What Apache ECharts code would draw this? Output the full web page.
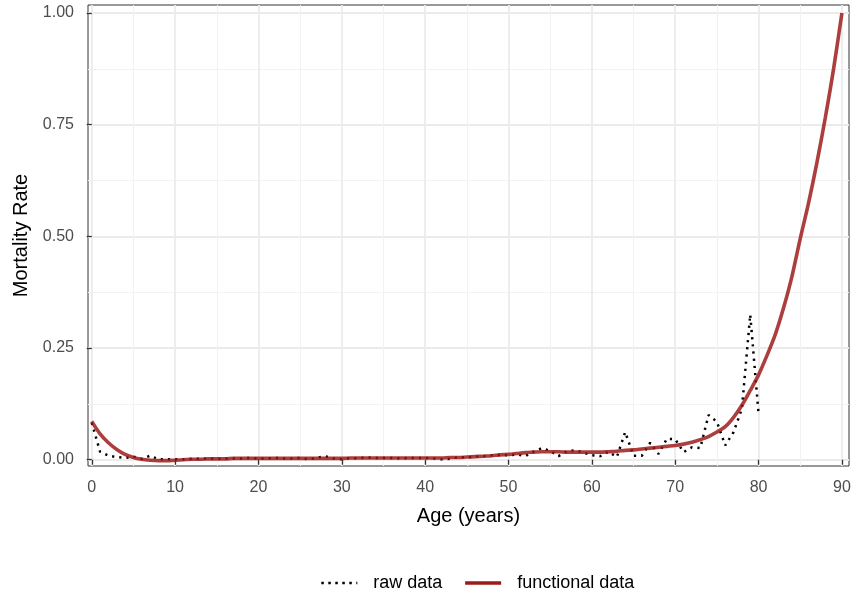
<!DOCTYPE html>
<html>
<head>
<meta charset="utf-8">
<script src="https://cdn.jsdelivr.net/npm/echarts@6/dist/echarts.min.js"></script>
<style>
html,body{margin:0;padding:0;background:#fff;}
#chart{width:855px;height:596px;}
</style>
</head>
<body>
<div id="chart"></div>
<script>
// ages
const rawAges = [];
for (let a = 0; a <= 80; a++) rawAges.push(a);
const funcAges = [];
for (let a = 0; a <= 90; a++) funcAges.push(a);

// raw mortality rates, ages 0..80
const rawRates = [
  0.083, 0.018, 0.009, 0.006, 0.004, 0.007, 0.002, 0.009, 0.001, 0.001,
  0.001, 0.001, 0.002, 0.002, 0.002, 0.002, 0.003, 0.003, 0.003, 0.004,
  0.003, 0.003, 0.004, 0.003, 0.003, 0.004, 0.001, 0.004, 0.008, 0.003,
  0.001, 0.004, 0.003, 0.005, 0.004, 0.004, 0.004, 0.003, 0.004, 0.004,
  0.004, 0.003, 0.001, 0.002, 0.006, 0.005, 0.007, 0.008, 0.010, 0.011,
  0.010, 0.012, 0.008, 0.018, 0.026, 0.020, 0.008, 0.019, 0.021, 0.016,
  0.010, 0.008, 0.018, 0.006, 0.062, 0.009, 0.009, 0.038, 0.013, 0.047,
  0.046, 0.017, 0.028, 0.026, 0.100, 0.085, 0.032, 0.062, 0.114, 0.325,
  0.103
];

// functional (smoothed) mortality rates, ages 0..90
const funcRates = [
  0.086, 0.058, 0.038, 0.023, 0.012, 0.005, 0.001, -0.001, -0.002, -0.002,
  -0.001, 0.000, 0.001, 0.001, 0.002, 0.002, 0.002, 0.003, 0.003, 0.003,
  0.003, 0.003, 0.003, 0.003, 0.003, 0.003, 0.003, 0.003, 0.003, 0.003,
  0.003, 0.004, 0.004, 0.004, 0.004, 0.004, 0.004, 0.004, 0.004, 0.004,
  0.004, 0.004, 0.004, 0.005, 0.005, 0.006, 0.007, 0.008, 0.009, 0.011,
  0.012, 0.014, 0.016, 0.017, 0.018, 0.018, 0.018, 0.017, 0.017, 0.017,
  0.017, 0.017, 0.018, 0.019, 0.021, 0.022, 0.024, 0.026, 0.028, 0.030,
  0.032, 0.035, 0.039, 0.045, 0.052, 0.062, 0.074, 0.095, 0.122, 0.155,
  0.190, 0.233, 0.280, 0.340, 0.410, 0.495, 0.575, 0.665, 0.765, 0.875,
  1.000
];

const xMajorTicks = [0, 10, 20, 30, 40, 50, 60, 70, 80, 90];
const xMinorTicks = [5, 15, 25, 35, 45, 55, 65, 75, 85];
const yMajorTicks = [0, 0.25, 0.5, 0.75, 1.0];
const yMinorTicks = [0.125, 0.375, 0.625, 0.875];

const seriesNames = ['raw data', 'functional data'];

const X_MIN = -0.45, X_MAX = 90.85;
const Y_MIN = -0.014, Y_MAX = 1.018;

const chart = echarts.init(document.getElementById('chart'), null, {renderer: 'canvas'});
const font = 'Liberation Sans, Arial, sans-serif';

const option = {
  backgroundColor: '#ffffff',
  animation: false,
  grid: {
    left: 88, right: 6, top: 5, bottom: 130,
    show: true, borderColor: '#333333', borderWidth: 1, backgroundColor: 'transparent'
  },
  legend: {
    top: 569,
    left: 315,
    itemWidth: 36,
    itemHeight: 14,
    itemGap: 21,
    textStyle: {fontFamily: font, fontSize: 18, color: '#000', padding: [0, 0, 0, 11]},
    data: [
      {name: seriesNames[0], itemStyle: {opacity: 0}, lineStyle: {color: '#000', width: 2.6, type: [2.5, 4.5]}},
      {name: seriesNames[1], itemStyle: {opacity: 0}, lineStyle: {color: '#9B1B1B', width: 3.6}}
    ]
  },
  xAxis: [
    {
      type: 'value', min: X_MIN, max: X_MAX,
      name: 'Age (years)', nameLocation: 'middle', nameGap: 40,
      nameTextStyle: {fontFamily: font, fontSize: 20, color: '#000'},
      axisLine: {show: false},
      axisTick: {show: true, length: 5, customValues: xMajorTicks, lineStyle: {color: '#333', width: 1.3}},
      axisLabel: {customValues: xMajorTicks, fontFamily: font, fontSize: 16, color: '#4D4D4D', margin: 14,
        formatter: v => String(Math.round(v))},
      splitLine: {show: true, lineStyle: {color: '#EBEBEB', width: 1.8}}
    },
    {
      type: 'value', min: X_MIN, max: X_MAX, position: 'bottom',
      axisLine: {show: false}, axisLabel: {show: false},
      axisTick: {show: false, customValues: xMinorTicks},
      splitLine: {show: true, lineStyle: {color: '#F2F2F2', width: 1}}
    }
  ],
  yAxis: [
    {
      type: 'value', min: Y_MIN, max: Y_MAX,
      name: 'Mortality Rate', nameLocation: 'middle', nameGap: 57,
      nameTextStyle: {fontFamily: font, fontSize: 20, color: '#000'},
      axisLine: {show: false},
      axisTick: {show: true, length: 5, customValues: yMajorTicks, lineStyle: {color: '#333', width: 1.3}},
      axisLabel: {customValues: yMajorTicks, fontFamily: font, fontSize: 16, color: '#4D4D4D', margin: 14,
        formatter: v => v.toFixed(2)},
      splitLine: {show: true, lineStyle: {color: '#EBEBEB', width: 1.8}}
    },
    {
      type: 'value', min: Y_MIN, max: Y_MAX, position: 'left',
      axisLine: {show: false}, axisLabel: {show: false},
      axisTick: {show: false, customValues: yMinorTicks},
      splitLine: {show: true, lineStyle: {color: '#F2F2F2', width: 1}}
    }
  ],
  series: [
    {
      name: seriesNames[0], type: 'line',
      data: rawAges.map((a, i) => [a, rawRates[i]]),
      showSymbol: false, symbol: 'none',
      lineStyle: {color: '#000', width: 2.5, type: [2.2, 5]},
      itemStyle: {color: '#000'},
      clip: false, z: 3
    },
    {
      name: seriesNames[1], type: 'line',
      data: funcAges.map((a, i) => [a, funcRates[i]]),
      showSymbol: false, symbol: 'none', smooth: 0.3,
      lineStyle: {color: 'rgba(155,20,20,0.82)', width: 3.6},
      itemStyle: {color: '#9B1B1B'},
      clip: false, z: 4
    }
  ]
};
chart.setOption(option);
</script>
</body>
</html>
